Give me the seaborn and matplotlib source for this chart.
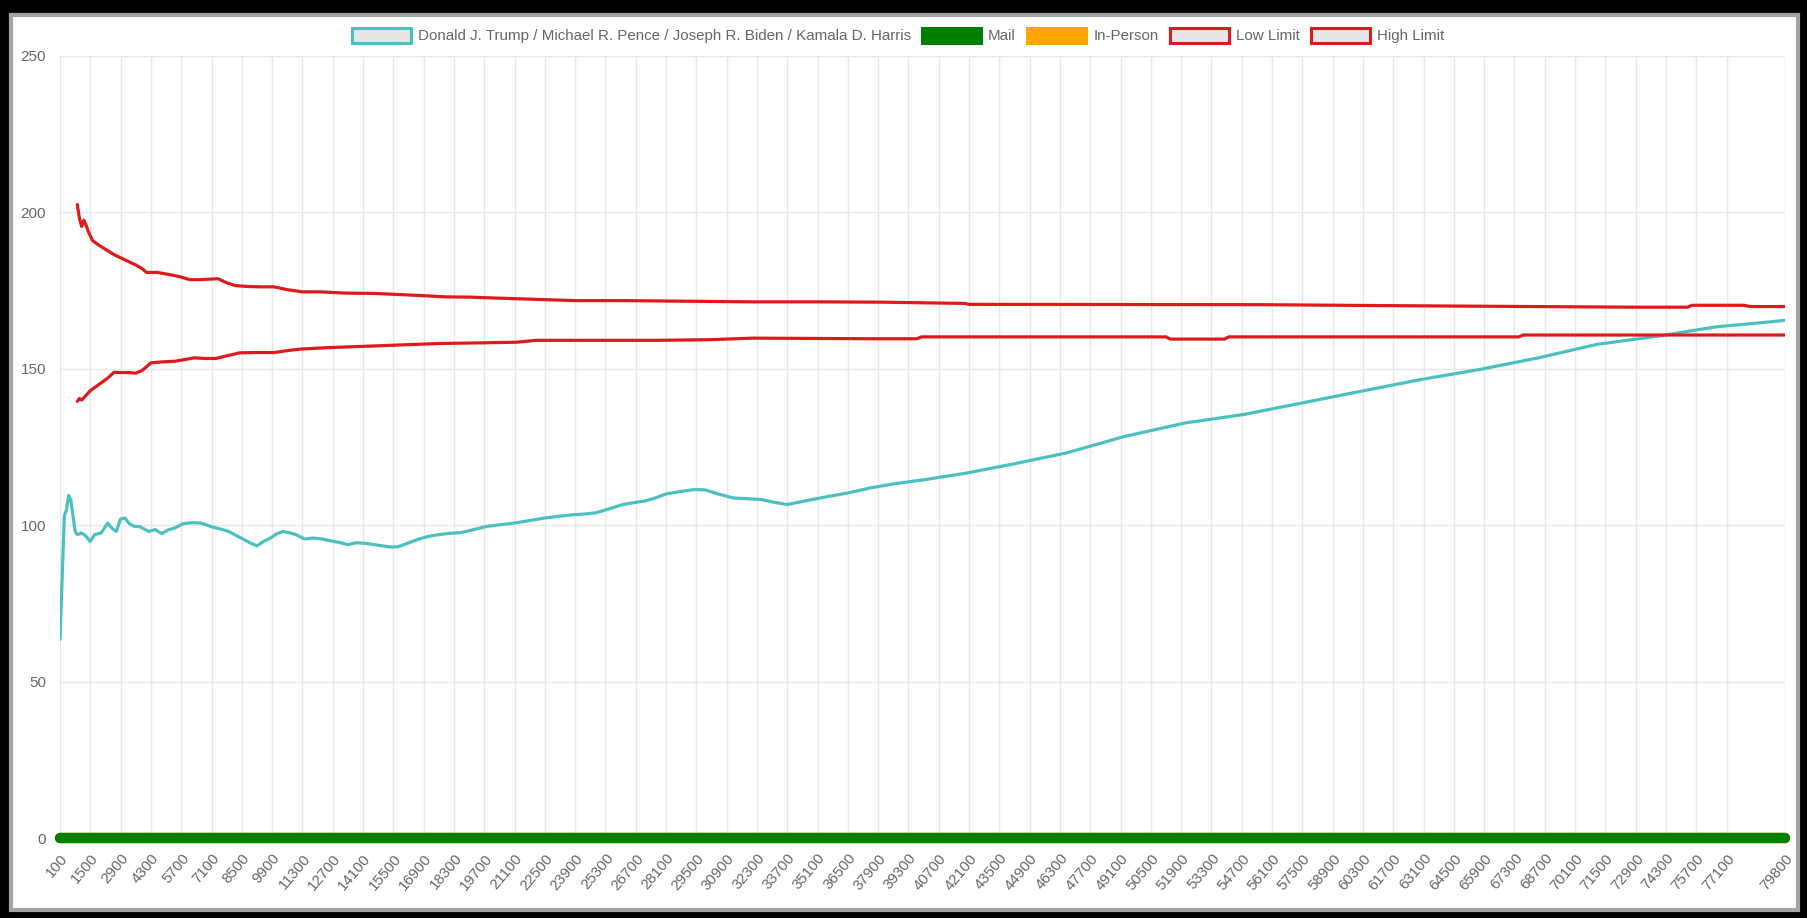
import numpy as np
import pandas as pd
import matplotlib
matplotlib.use("Agg")
import matplotlib.pyplot as plt
from matplotlib.patches import Patch, Rectangle
import seaborn as sns

# ---------------- data ----------------
# category axis: ballot counts 100 .. 79800 in steps of 100
categories = list(range(100, 79900, 100))
tick_labels = [str(v) for v in range(100, 77200, 1400)] + ["79800"]

series_names = ["Donald J. Trump / Michael R. Pence / Joseph R. Biden / Kamala D. Harris",
                "Mail", "In-Person", "Low Limit", "High Limit"]

# values at selected categories
trump_x = [100, 300, 400, 500, 600, 700, 800, 900, 1100, 1300, 1500, 1700, 2000, 2300, 2500,
           2700, 2900, 3100, 3300, 3500, 3800, 4200, 4500, 4800, 5100, 5400, 5800, 6200,
           6600, 7100, 7600, 7900, 8300, 8600, 8900, 9200, 9500, 9800, 10100, 10400, 10700,
           11000, 11400, 11800, 12200, 12600, 13000, 13400, 13800, 14200, 14600, 15000,
           15400, 15700, 16000, 16300, 16700, 17100, 17600, 18100, 18600, 19100, 19800,
           20500, 21100, 21800, 22500, 23200, 23900, 24400, 24900, 25500, 26100, 26600,
           27100, 27600, 28100, 28800, 29400, 29900, 30500, 31200, 31800, 32500, 33100,
           33700, 34200, 34700, 35600, 36500, 37600, 38700, 40100, 42000, 44100, 46600,
           49300, 52100, 54800, 57500, 60200, 63000, 65700, 68400, 71100, 73900, 76600,
           79100, 79800]
trump_y = [63.5, 103, 105, 109.5, 108, 103, 98, 97, 97.5, 96.5, 94.8, 97, 97.5, 100.7, 99,
           98, 102, 102.3, 100.5, 99.7, 99.5, 98, 98.6, 97.3, 98.5, 99.1, 100.5, 100.8,
           100.7, 99.5, 98.6, 98, 96.5, 95.4, 94.3, 93.4, 94.8, 95.8, 97.2, 98, 97.6,
           97, 95.6, 95.9, 95.6, 95, 94.5, 93.8, 94.4, 94.2, 93.8, 93.4,
           93.0, 93.1, 93.8, 94.6, 95.6, 96.4, 97, 97.4, 97.6, 98.4, 99.6,
           100.2, 100.7, 101.5, 102.3, 102.9, 103.4, 103.6, 104, 105.3, 106.6, 107.2,
           107.7, 108.7, 110, 110.8, 111.4, 111.3, 110, 108.7, 108.5, 108.2, 107.3,
           106.6, 107.3, 108, 109.2, 110.3, 112, 113.3, 114.6, 116.7, 119.5, 123.1,
           128.4, 132.7, 135.4, 139.1, 142.8, 146.6, 149.8, 153.5, 157.8, 160.4, 163.4,
           165, 165.5]

high_x = [900, 1000, 1100, 1200, 1300, 1400, 1600, 1900, 2200, 2600, 2900, 3200, 3600,
          3900, 4100, 4600, 5100, 5600, 6100, 6600, 7100, 7400, 7800, 8200, 8800, 9400,
          10000, 10600, 11300, 12100, 13300, 14600, 15900, 17100, 17900, 19100, 20300,
          22100, 23900, 26100, 29100, 32100, 35100, 38100, 41900, 42100, 55600, 61300,
          72800, 75300, 75500, 77900, 78200, 79800]
high_y = [202.5, 198, 195.5, 197.5, 196, 194, 191, 189.5, 188.2, 186.5, 185.5, 184.5, 183.2,
          182, 180.8, 180.8, 180.2, 179.5, 178.5, 178.5, 178.7, 178.8, 177.5, 176.6, 176.3,
          176.2, 176.2, 175.3, 174.6, 174.6, 174.2, 174.1, 173.7, 173.3, 173, 172.9, 172.6,
          172.2, 171.8, 171.8, 171.6, 171.4, 171.4, 171.3, 170.9, 170.6, 170.5, 170.2,
          169.7, 169.7, 170.3, 170.3, 169.9, 169.9]

low_x = [900, 1000, 1100, 1300, 1500, 1700, 2000, 2300, 2600, 2900, 3300, 3600, 3900,
         4300, 4800, 5400, 5900, 6300, 6800, 7300, 7900, 8400, 9100, 10000, 10600, 11200,
         12600, 14200, 16100, 17700, 19600, 21200, 22100, 27600, 30100, 32100, 37900,
         39700, 39900, 51200, 51400, 53900, 54100, 67500, 67700, 79800]
low_y = [139.6, 140.5, 140.0, 141.5, 143, 144, 145.5, 147, 148.9, 148.8, 148.8, 148.6,
         149.5, 151.9, 152.2, 152.4, 153, 153.5, 153.3, 153.3, 154.3, 155.1, 155.2, 155.2,
         155.8, 156.3, 156.8, 157.2, 157.7, 158.1, 158.3, 158.5, 159.1, 159.1, 159.3,
         159.8, 159.6, 159.6, 160.2, 160.2, 159.5, 159.5, 160.2, 160.2, 160.8, 160.8]

mail_y = [0.0] * len(categories)
in_person_y = [0.0] * len(categories)

colors = {"trump": "#4bc0c0", "mail": "#008000", "inperson": "#ffa500", "limit": "#e01a1a"}

# ---------------- figure ----------------
W, H = 1807, 918
sns.set_theme(style="white")
plt.rcParams["font.family"] = ["Liberation Sans", "DejaVu Sans"]

fig = plt.figure(figsize=(W / 100, H / 100), dpi=100)
fig.patch.set_facecolor("black")
fig.patches.append(Rectangle((11 / W, 8 / H), (1798 - 11) / W, (910 - 15) / H,
                             transform=fig.transFigure, facecolor="white",
                             edgecolor="#a4a4a4", lw=3, zorder=-10))

ax = fig.add_axes([60 / W, 80 / H, (1785 - 60) / W, (838 - 56) / H])
ax.set_zorder(5)
ax.set_facecolor("none")

pos = {c: i for i, c in enumerate(categories)}

def frame(xs, ys):
    return pd.DataFrame({"pos": [pos[x] for x in xs], "value": ys})

all_pos = list(range(len(categories)))
sns.lineplot(x=all_pos, y=in_person_y, ax=ax, color=colors["inperson"], lw=7.5,
             solid_capstyle="round", clip_on=False, zorder=3, legend=False)
sns.lineplot(x=all_pos, y=mail_y, ax=ax, color=colors["mail"], lw=7.5,
             solid_capstyle="round", clip_on=False, zorder=4, legend=False)

sns.lineplot(data=frame(trump_x, trump_y), x="pos", y="value", ax=ax,
             color=colors["trump"], lw=2.3, zorder=5, legend=False)
sns.lineplot(data=frame(low_x, low_y), x="pos", y="value", ax=ax,
             color=colors["limit"], lw=2.3, zorder=5, legend=False)
sns.lineplot(data=frame(high_x, high_y), x="pos", y="value", ax=ax,
             color=colors["limit"], lw=2.3, zorder=5, legend=False)

ax.set_xlim(0, len(categories) - 1)
ax.set_ylim(0, 250)
ax.set_xlabel("")
ax.set_ylabel("")

tick_pos = [pos[int(t)] for t in tick_labels]
ax.set_xticks(tick_pos)
ax.set_xticklabels(tick_labels, rotation=50, ha="right", rotation_mode="anchor",
                   fontsize=10.8, color="#666666")
ax.set_yticks([0, 50, 100, 150, 200, 250])
ax.set_yticklabels(["0", "50", "100", "150", "200", "250"], fontsize=11, color="#666666")
ax.tick_params(axis="x", length=7, width=1, color="#e6e6e6", pad=2.5)
ax.tick_params(axis="y", length=8, width=1, color="#e6e6e6", pad=2)
ax.grid(True, color="#e8e8e8", lw=1)
ax.set_axisbelow(True)
for s in ax.spines.values():
    s.set_visible(False)

handles = [Patch(facecolor="#e6e6e6", edgecolor=colors["trump"], lw=2.2),
           Patch(facecolor=colors["mail"], edgecolor=colors["mail"], lw=2.2),
           Patch(facecolor=colors["inperson"], edgecolor=colors["inperson"], lw=2.2),
           Patch(facecolor="#e6e6e6", edgecolor=colors["limit"], lw=2.2),
           Patch(facecolor="#e6e6e6", edgecolor=colors["limit"], lw=2.2)]
fig.legend(handles=handles, labels=series_names, loc="center",
           bbox_to_anchor=(898 / W, 1 - 35.5 / H), ncol=5, frameon=False,
           handlelength=3.9, handleheight=1.15, handletextpad=0.45,
           columnspacing=0.75, fontsize=10.9, labelcolor="#666666",
           borderaxespad=0, borderpad=0)

fig.savefig("out.png", dpi=100, facecolor=fig.get_facecolor())
